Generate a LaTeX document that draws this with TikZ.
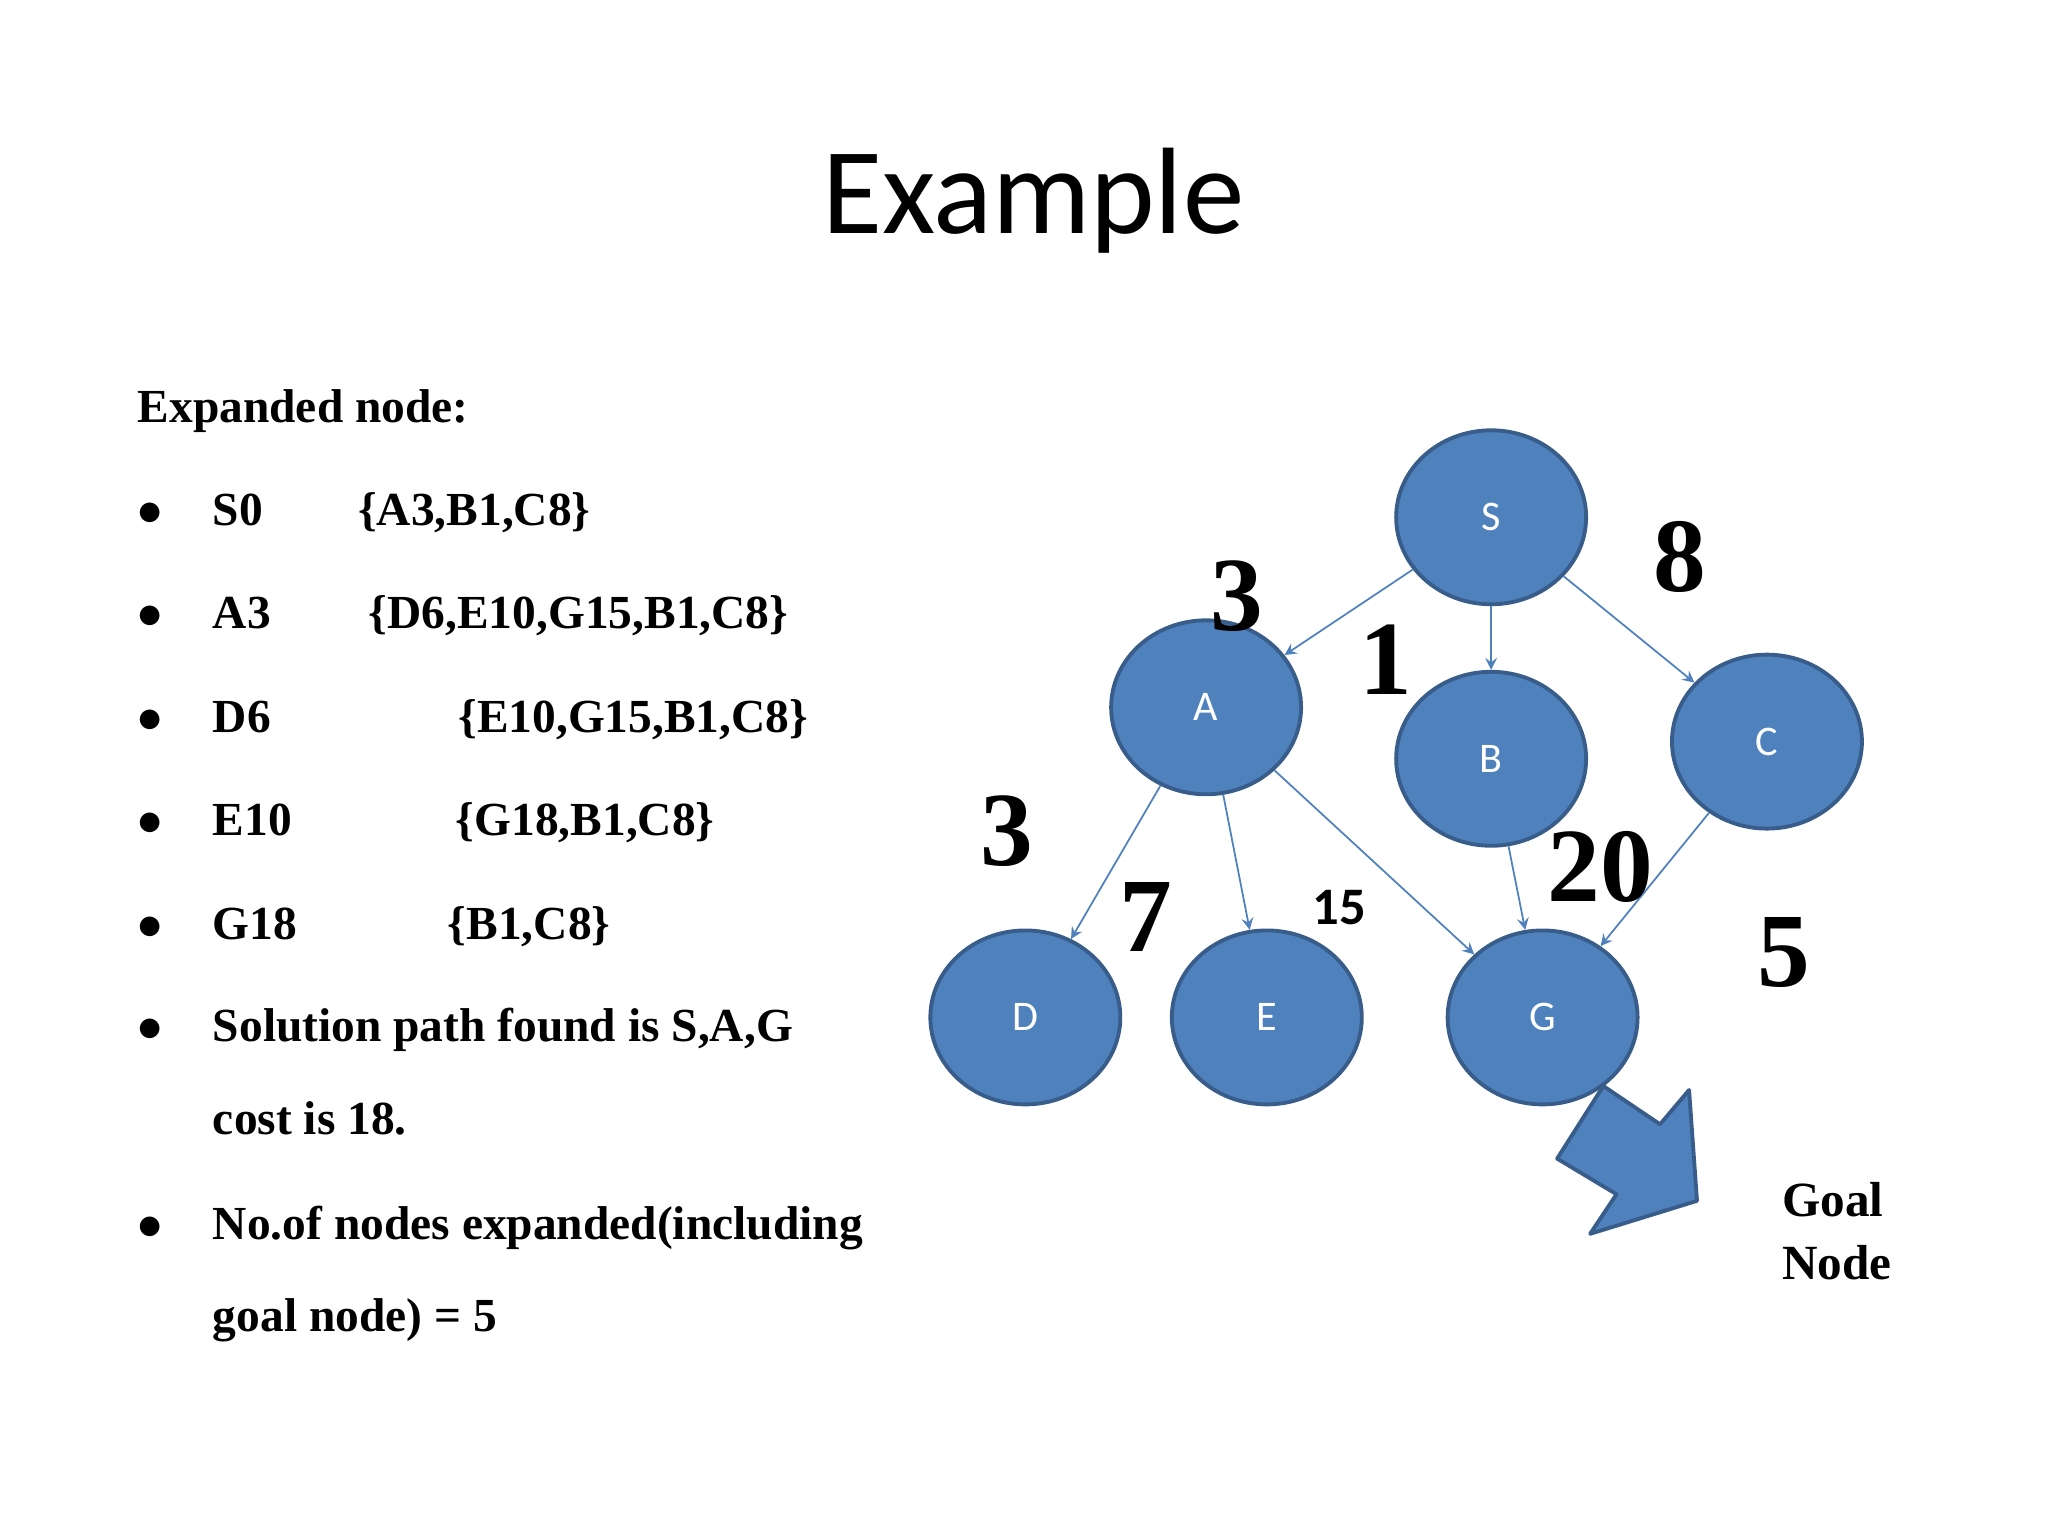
\documentclass[tikz,border=0pt]{standalone}
\usepackage{fontspec}
\setmainfont{Liberation Serif}
\newfontfamily\calib{Carlito}
\usetikzlibrary{shapes.geometric}
\definecolor{nodeblue}{HTML}{4F81BD}
\definecolor{nodeedge}{HTML}{385D8A}
\begin{document}
\begin{tikzpicture}[x=0.0132cm, y=-0.0132cm,
            state/.style={ellipse, draw=nodeedge, fill=nodeblue, line width=1.1pt,
              minimum width=144\pgflinewidth*0+1.9cm, minimum height=1.74cm,
              text=white, font=\calib\fontsize{12}{14}\selectfont},
            edge/.style={nodeblue, line width=0.5pt, ->, >=stealth},
            weight/.style={font=\bfseries\fontsize{30}{32}\selectfont},
            item/.style={anchor=base west, font=\bfseries\fontsize{13.5}{16}\selectfont}
        ]
        \useasboundingbox (0,0) rectangle (1552,1164);

        % Title
        \node[font=\calib\fontsize{35}{40}\selectfont] (title) at (783,152) {Example};

        % Expansion list (left column)
        \node[item] (head) at (95,320) {Expanded node:};
        \foreach \y/\a/\xb/\b in {398/S0/262/{\{A3,B1,C8\}},
                                  476/A3/270/{\{D6,E10,G15,B1,C8\}},
                                  555/D6/338/{\{E10,G15,B1,C8\}},
                                  633/E10/336/{\{G18,B1,C8\}},
                                  712/G18/330/{\{B1,C8\}}} {
            \node[item] at (95,\y) {$\bullet$};
            \node[item] at (152,\y) {\a};
            \node[item] at (\xb,\y) {\b};
        }
        \node[item] (b6) at (95,789) {$\bullet$};
        \node[item] (sol) at (152,789) {Solution path found is S,A,G};
        \node[item] (cost) at (152,860) {cost is 18.};
        \node[item] (b7) at (95,939) {$\bullet$};
        \node[item] (cnt) at (152,939) {No.of nodes expanded(including};
        \node[item] (cnt2) at (152,1009) {goal node) = 5};

        % Search tree
        \node[state] (S) at (1130,392) {S};
        \node[state] (A) at (914,536) {A};
        \node[state] (B) at (1130,575) {B};
        \node[state] (C) at (1339,562) {C};
        \node[state] (D) at (777,771) {D};
        \node[state] (E) at (960,771) {E};
        \node[state] (G) at (1169,771) {G};

        % Connections
        \draw[edge] (S) -- (A);
        \draw[edge] (S) -- (B);
        \draw[edge] (S) -- (C);
        \draw[edge] (A) -- (D);
        \draw[edge] (A) -- (E);
        \draw[edge] (A) -- (G);
        \draw[edge] (B) -- (G);
        \draw[edge] (C) -- (G);

        % Costs
        \node[weight] (wA) at (937,452) {3};
        \node[weight] (wB) at (1050,500) {1};
        \node[weight] (wC) at (1273,422) {8};
        \node[weight] (wD) at (763,630) {3};
        \node[weight] (wE) at (868,695) {7};
        \node[font=\calib\bfseries\fontsize{15}{17}\selectfont] (wG1) at (1015,688) {15};
        \node[weight] (wG2) at (1213,657) {20};
        \node[weight] (wG3) at (1352,722) {5};

        % Goal arrow
        \draw[nodeedge, fill=nodeblue, line width=1.1pt, line join=round]
            (1215,823) -- (1258,852) -- (1280,826) -- (1286,910) -- (1205,935)
            -- (1225,905) -- (1180,878) -- cycle;
        \node[font=\bfseries\fontsize{14}{18}\selectfont, align=left] (goal) at (1392,933) {Goal\\Node};
    \end{tikzpicture}
\end{document}
